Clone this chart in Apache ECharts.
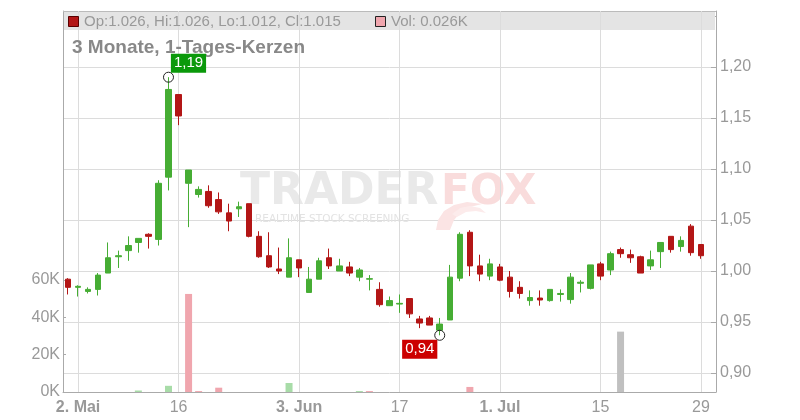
<!DOCTYPE html>
<html>
<head>
<meta charset="utf-8">
<script src="https://cdn.jsdelivr.net/npm/echarts@6/dist/echarts.min.js"></script>
<style>html,body{margin:0;padding:0;background:#fff;}#c{width:800px;height:420px;}</style>
</head>
<body>
<div id="c"></div>
<script>
const dates = [
 '01.05.','02.05.','03.05.','06.05.','07.05.','08.05.','09.05.','10.05.','13.05.','14.05.','15.05.','16.05.','17.05.',
 '20.05.','21.05.','22.05.','23.05.','24.05.','27.05.','28.05.','29.05.','30.05.','31.05.',
 '03.06.','04.06.','05.06.','06.06.','07.06.','10.06.','11.06.','12.06.','13.06.','14.06.',
 '17.06.','18.06.','19.06.','20.06.','21.06.','24.06.','25.06.','26.06.','27.06.','28.06.',
 '01.07.','02.07.','03.07.','04.07.','05.07.','08.07.','09.07.','10.07.','11.07.','12.07.',
 '15.07.','16.07.','17.07.','18.07.','19.07.','22.07.','23.07.','24.07.','25.07.','26.07.','29.07.'
];
const opens  = [0.992,0.984,0.980,0.982,0.998,1.014,1.020,1.028,1.036,1.031,1.092,1.173,1.086,1.075,1.078,1.070,1.057,1.061,1.066,1.034,
                1.015,1.002,0.994,1.011,0.979,0.992,1.013,1.000,1.004,0.994,0.992,0.982,0.966,0.9676,0.973,0.953,0.954,0.942,0.952,0.993,
                1.038,1.005,0.995,1.004,0.994,0.984,0.971,0.9735,0.971,0.977,0.972,0.988,0.983,1.007,1.001,1.021,1.016,1.014,1.005,1.019,
                1.034,1.024,1.044,1.026];
const closes = [0.984,0.985,0.982,0.996,1.013,1.015,1.025,1.032,1.034,1.086,1.178,1.152,1.099,1.080,1.064,1.058,1.049,1.063,1.034,1.014,
                1.004,1.000,1.013,1.003,0.992,1.010,1.005,1.005,0.998,1.001,0.9925,0.967,0.971,0.9683,0.958,0.949,0.947,0.948,0.994,1.036,
                1.005,0.997,1.007,0.991,0.980,0.978,0.974,0.9716,0.982,0.978,0.994,0.989,1.006,0.995,1.017,1.017,1.013,0.998,1.011,1.028,
                1.021,1.030,1.018,1.015];
const lows   = [0.977,0.975,0.978,0.976,0.998,1.003,1.010,1.018,1.022,1.025,1.079,1.143,1.043,1.072,1.062,1.056,1.039,1.053,1.033,1.013,
                1.003,0.997,0.994,0.994,0.979,0.992,1.002,1.000,0.995,0.990,0.981,0.965,0.966,0.959,0.954,0.944,0.947,0.937,0.952,0.990,
                0.995,0.990,0.991,0.990,0.974,0.973,0.966,0.966,0.970,0.970,0.968,0.979,0.982,0.991,0.996,1.013,1.008,0.998,1.001,1.003,
                1.018,1.019,1.015,1.012];
const highs  = [0.993,0.986,0.984,0.998,1.028,1.020,1.034,1.032,1.037,1.089,1.190,1.173,1.099,1.083,1.084,1.077,1.066,1.068,1.066,1.039,
                1.038,1.023,1.032,1.011,1.004,1.013,1.022,1.012,1.009,1.003,0.996,0.989,0.975,0.977,0.973,0.956,0.956,0.954,1.006,1.038,
                1.040,1.016,1.012,1.007,1.000,0.990,0.981,0.981,0.982,0.982,0.998,0.991,1.006,1.009,1.019,1.023,1.021,1.015,1.020,1.028,
                1.034,1.034,1.046,1.026];
const volumes = [0,0,0,0,0,0,0,800,0,0,3300,0,52300,500,0,2300,0,0,0,0,
                 0,0,4800,0,0,0,0,0,0,500,500,0,0,0,0,0,0,0,0,0,
                 2700,0,0,0,0,0,0,0,0,0,0,0,0,0,0,32200,0,0,0,0,
                 0,0,0,0];
const labelIdx = [1, 11, 23, 33, 43, 53, 63];
const tickLabels = ['2. Mai', '16', '3. Jun', '17', '1. Jul', '15', '29'];
const boldLabel = [true, false, true, false, true, false, false];
const priceLabelMax = 1.20;
const volTicks = [0, 20000, 40000, 60000];
const highMark = { idx: 10, value: 1.190, text: '1,19' };
const lowMark = { idx: 37, value: 0.937, text: '0,94' };
const headerText = 'Op:1.026, Hi:1.026, Lo:1.012, Cl:1.015';
const volText = 'Vol: 0.026K';
const titleText = '3 Monate, 1-Tages-Kerzen';

const GREEN = '#46ad34', RED = '#b31616';
const categories = dates.concat(['']);
const candleData = dates.map((d, i) => [opens[i], closes[i], lows[i], highs[i]]);
const volData = volumes.map((v, i) => {
  const prev = i > 0 ? closes[i - 1] : closes[i];
  const col = closes[i] > prev ? '#a8dca8' : (closes[i] < prev ? '#f0a6ae' : '#c0c0c0');
  return { value: v, itemStyle: { color: col } };
});

const chart = echarts.init(document.getElementById('c'), null, { renderer: 'canvas' });
const axisGray = '#aaaaaa', gridGray = '#dcdcdc', textGray = '#999999';

chart.setOption({
  animation: false,
  grid: [
    { left: 63, right: 84, top: 11, bottom: 28 },
    { left: 63, right: 84, top: 280, bottom: 28 }
  ],
  xAxis: [
    {
      type: 'category', data: categories, gridIndex: 0, boundaryGap: true,
      axisLine: { lineStyle: { color: axisGray } },
      axisTick: { interval: (i) => labelIdx.includes(i), alignWithLabel: true, length: 3, lineStyle: { color: axisGray } },
      axisLabel: {
        interval: (i) => labelIdx.includes(i), margin: 8, fontSize: 16, color: textGray, fontFamily: 'Liberation Sans',
        formatter: (v, i) => { const k = labelIdx.indexOf(i); if (k < 0) return ''; return boldLabel[k] ? '{b|' + tickLabels[k] + '}' : tickLabels[k]; },
        rich: { b: { fontWeight: 'bold', fontSize: 16, color: textGray, fontFamily: 'Liberation Sans' } }
      },
      splitLine: { show: false }
    },
    { type: 'value', gridIndex: 1, show: false, min: 0, max: 1 }
  ],
  yAxis: [
    {
      type: 'value', position: 'right', min: 0.8814, max: 1.2549, minInterval: 0.05, maxInterval: 0.05,
      axisLine: { show: true, lineStyle: { color: axisGray } },
      axisTick: { show: true, inside: true, length: 5, lineStyle: { color: axisGray } },
      axisLabel: { margin: 4, fontSize: 16, color: textGray, fontFamily: 'Liberation Sans', showMinLabel: false, showMaxLabel: false,
        formatter: (v) => (v > priceLabelMax + 0.001 ? '' : v.toFixed(2).replace('.', ',')) },
      splitLine: { show: true, lineStyle: { color: gridGray, width: 1 } }
    },
    {
      type: 'value', position: 'left', min: 0, max: 203200,
      axisLine: { show: true, lineStyle: { color: axisGray } },
      axisTick: { show: false }, axisLabel: { show: false }, splitLine: { show: false }
    },
    {
      type: 'value', gridIndex: 1, position: 'left', min: volTicks[0], max: volTicks[volTicks.length - 1], interval: 20000,
      axisLine: { show: false },
      axisTick: { show: true, inside: true, length: 3, lineStyle: { color: axisGray } },
      axisLabel: { margin: 3, fontSize: 16, color: textGray, fontFamily: 'Liberation Sans', formatter: (v) => (v / 1000) + 'K' },
      splitLine: { show: false }
    }
  ],
  series: [
    {
      type: 'bar', xAxisIndex: 0, yAxisIndex: 1, data: volData, barWidth: 7, z: 3,
      markLine: {
        z: 2, silent: true, symbol: ['none', 'none'], label: { show: false },
        lineStyle: { color: gridGray, type: 'solid', width: 1 },
        data: labelIdx.map(i => ({ xAxis: categories[i] }))
      }
    },
    {
      type: 'candlestick', xAxisIndex: 0, yAxisIndex: 0, data: candleData, barWidth: 6, z: 3,
      itemStyle: { color: GREEN, color0: RED, borderColor: GREEN, borderColor0: RED, borderWidth: 1 },
      markPoint: {
        symbol: 'circle', symbolSize: 10, z: 6,
        itemStyle: { color: 'rgba(255,255,255,0)', borderColor: '#222', borderWidth: 1 },
        data: [
          { coord: [categories[highMark.idx], highMark.value],
            label: { show: true, position: 'inside', offset: [20, -14], formatter: highMark.text, color: '#fff', fontSize: 15,
              fontFamily: 'Liberation Sans', backgroundColor: '#0a990a', padding: [2, 3, 2, 3] } },
          { coord: [categories[lowMark.idx], lowMark.value],
            label: { show: true, position: 'inside', offset: [-20, 14], formatter: lowMark.text, color: '#fff', fontSize: 15,
              fontFamily: 'Liberation Sans', backgroundColor: '#cc0000', padding: [2, 3, 2, 3] } }
        ]
      }
    }
  ],
  graphic: [
    { type: 'rect', z: 1, silent: true, shape: { x: 64, y: 12, width: 651, height: 18 }, style: { fill: '#e4e4e4' } },
    { type: 'line', z: 2, silent: true, shape: { x1: 63, y1: 11.5, x2: 716, y2: 11.5 }, style: { stroke: '#bbbbbb', lineWidth: 1 } },
    { type: 'rect', z: 4, silent: true, shape: { x: 68.5, y: 16.5, width: 10, height: 10 }, style: { fill: RED, stroke: '#5a0000', lineWidth: 1 } },
    { type: 'text', z: 4, silent: true, x: 84, y: 21.5, style: { text: headerText, fill: textGray, font: '15px "Liberation Sans"', verticalAlign: 'middle' } },
    { type: 'rect', z: 4, silent: true, shape: { x: 375.5, y: 16.5, width: 10, height: 10 }, style: { fill: '#f0a6ae', stroke: '#222', lineWidth: 1 } },
    { type: 'text', z: 4, silent: true, x: 391, y: 21.5, style: { text: volText, fill: textGray, font: '15px "Liberation Sans"', verticalAlign: 'middle' } },
    { type: 'text', z: 4, silent: true, x: 72, y: 48, style: { text: titleText, fill: '#888888', font: 'bold 19px "Liberation Sans"', verticalAlign: 'middle' } },
    { type: 'text', z: 1, silent: true, x: 240, y: 193, style: { text: 'TRADER', fill: '#e9e9e9', font: 'bold 44px "DejaVu Sans"', verticalAlign: 'middle' } },
    { type: 'text', z: 1, silent: true, x: 441, y: 193, style: { text: 'FOX', fill: '#f9dcdc', font: 'bold 42px "DejaVu Sans"', verticalAlign: 'middle' } },
    { type: 'text', z: 1, silent: true, x: 255, y: 219, style: { text: 'REALTIME STOCK SCREENING', fill: '#e3e3e3', font: '10.5px "DejaVu Sans"', verticalAlign: 'middle' } },
    { type: 'polygon', z: 1, silent: true, shape: { points: [[436,230],[438,220],[444,211],[454,205],[467,202],[482,204],[470,207],[460,213],[454,220],[450,230]] }, style: { fill: '#fbe4e4' } },
    { type: 'polygon', z: 1, silent: true, shape: { points: [[452,214],[460,208],[470,206],[480,208],[486,213],[476,211],[466,212],[457,217]] }, style: { fill: '#fcebeb' } }
  ]
});
</script>
</body>
</html>
